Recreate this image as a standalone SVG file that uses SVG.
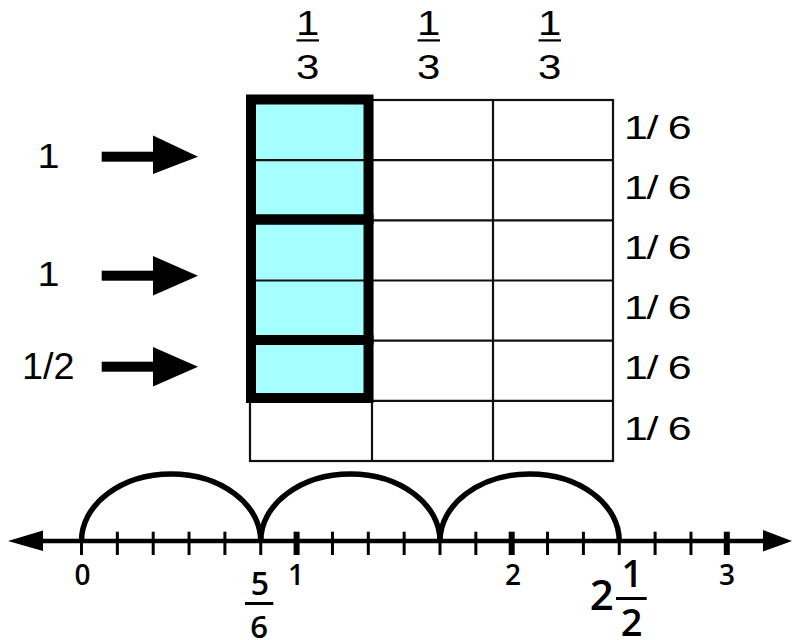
<svg xmlns="http://www.w3.org/2000/svg" width="792" height="640" viewBox="0 0 792 640">
<style>
.thin{stroke:#111;stroke-width:2.2;fill:none}
.thick{stroke:#000;stroke-width:10;fill:none}
.tk{stroke:#000;stroke-width:3}
.tkb{stroke:#000;stroke-width:6}
.arc{stroke:#000;stroke-width:5.5;fill:none}
</style>
<rect width="792" height="640" fill="#fff"/>

<g id="fraction-headers" font-family="'Liberation Sans', Arial, sans-serif" font-size="35" text-anchor="middle">
  <text transform="translate(307.8,34.5) scale(1.2,1)">1</text>
  <rect x="296.5" y="39.3" width="22.5" height="2.2"/>
  <text transform="translate(307.8,78.5) scale(1.2,1)">3</text>
  <text transform="translate(428.8,34.5) scale(1.2,1)">1</text>
  <rect x="417.5" y="39.3" width="22.5" height="2.2"/>
  <text transform="translate(428.8,78.5) scale(1.2,1)">3</text>
  <text transform="translate(549.7,34.5) scale(1.2,1)">1</text>
  <rect x="538.5" y="39.3" width="22.5" height="2.2"/>
  <text transform="translate(549.7,78.5) scale(1.2,1)">3</text>
</g>

<g id="grid">
  <rect x="250" y="100" width="122" height="301" fill="#a6ffff"/>
  <rect x="250" y="100" width="363" height="361" class="thin"/>
  <line x1="372" y1="100" x2="372" y2="461" class="thin"/>
  <line x1="493" y1="100" x2="493" y2="461" class="thin"/>
  <line x1="250" y1="160.2" x2="613" y2="160.2" class="thin"/>
  <line x1="250" y1="220.3" x2="613" y2="220.3" class="thin"/>
  <line x1="250" y1="280.5" x2="613" y2="280.5" class="thin"/>
  <line x1="250" y1="340.7" x2="613" y2="340.7" class="thin"/>
  <line x1="250" y1="400.8" x2="613" y2="400.8" class="thin"/>
</g>

<g id="groups">
  <rect x="251" y="99.5" width="117.5" height="120" class="thick"/>
  <rect x="251" y="219.5" width="117.5" height="120.5" class="thick"/>
  <rect x="251" y="340" width="117.5" height="58" class="thick"/>
</g>

<g id="row-labels" font-family="'Liberation Sans', Arial, sans-serif" font-size="33">
  <text transform="translate(624,138.5) scale(1.3,1)" letter-spacing="-1">1/ 6</text>
  <text transform="translate(624,198.7) scale(1.3,1)" letter-spacing="-1">1/ 6</text>
  <text transform="translate(624,258.8) scale(1.3,1)" letter-spacing="-1">1/ 6</text>
  <text transform="translate(624,319) scale(1.3,1)" letter-spacing="-1">1/ 6</text>
  <text transform="translate(624,379.2) scale(1.3,1)" letter-spacing="-1">1/ 6</text>
  <text transform="translate(624,439.5) scale(1.3,1)" letter-spacing="-1">1/ 6</text>
</g>

<g id="left-labels" font-family="'Liberation Sans', Arial, sans-serif" font-size="36">
  <text transform="translate(48.5,167.7) scale(1.1,1)" text-anchor="middle">1</text>
  <text transform="translate(48.5,285.7) scale(1.1,1)" text-anchor="middle">1</text>
  <text transform="translate(22,378.5) scale(1.05,1)">1/2</text>
</g>

<g id="connectors">
  <g id="arrow1"><rect x="101.7" y="151.7" width="52" height="10"/><polygon points="153,135.5 198,156.7 153,174"/></g>
  <g id="arrow2"><rect x="101.7" y="270.7" width="52" height="10"/><polygon points="153,256 198,275.7 153,295.5"/></g>
  <g id="arrow3"><rect x="101.7" y="361.7" width="52" height="10"/><polygon points="153,347 198,366.7 153,386.5"/></g>
</g>

<g id="number-line">
  <line x1="30" y1="541" x2="770" y2="541" stroke="#000" stroke-width="4.5"/>
  <polygon points="8,541 43,530.5 43,551"/>
  <polygon points="792,541 763,530 763,551.5"/>
  <g class="tk">
    <line x1="81.5" y1="531.7" x2="81.5" y2="555"/>
    <line x1="117.35" y1="531.7" x2="117.35" y2="555"/>
    <line x1="153.2" y1="531.7" x2="153.2" y2="555"/>
    <line x1="189.05" y1="531.7" x2="189.05" y2="555"/>
    <line x1="224.9" y1="531.7" x2="224.9" y2="555"/>
    <line x1="260.75" y1="531.7" x2="260.75" y2="555"/>
    <line x1="332.45" y1="531.7" x2="332.45" y2="555"/>
    <line x1="368.3" y1="531.7" x2="368.3" y2="555"/>
    <line x1="404.15" y1="531.7" x2="404.15" y2="555"/>
    <line x1="440" y1="531.7" x2="440" y2="555"/>
    <line x1="475.85" y1="531.7" x2="475.85" y2="555"/>
    <line x1="547.55" y1="531.7" x2="547.55" y2="555"/>
    <line x1="583.4" y1="531.7" x2="583.4" y2="555"/>
    <line x1="619.25" y1="531.7" x2="619.25" y2="555"/>
    <line x1="655.1" y1="531.7" x2="655.1" y2="555"/>
    <line x1="690.95" y1="531.7" x2="690.95" y2="555"/>
  </g>
  <g class="tkb">
    <line x1="296.6" y1="531.7" x2="296.6" y2="555"/>
    <line x1="511.7" y1="531.7" x2="511.7" y2="555"/>
    <line x1="726.8" y1="531.7" x2="726.8" y2="555"/>
  </g>
  <path class="arc" d="M81.5,541 A89.6,67 0 0 1 260.75,541"/>
  <path class="arc" d="M260.75,541 A89.6,67 0 0 1 440,541"/>
  <path class="arc" d="M440,541 A89.6,67 0 0 1 619.25,541"/>
</g>

<g id="axis-labels" font-family="'Open Sans', 'Liberation Sans', sans-serif" font-weight="600" text-anchor="middle" font-size="28">
  <text x="82.5" y="585">0</text>
  <text x="296" y="585">1</text>
  <text x="513" y="585">2</text>
  <text x="727" y="585">3</text>
</g>

<g id="label-5-6" font-family="'Open Sans', 'Liberation Sans', sans-serif" font-weight="600" text-anchor="middle">
  <text x="260" y="595" font-size="32">5</text>
  <rect x="245" y="602" width="28.3" height="3"/>
  <text x="259" y="638" font-size="31">6</text>
</g>

<g id="label-2-1-2" font-family="'Open Sans', 'Liberation Sans', sans-serif" font-weight="600" text-anchor="middle">
  <text x="601.7" y="610" font-size="42">2</text>
  <text x="632" y="586.7" font-size="37">1</text>
  <rect x="616" y="597" width="30.7" height="3"/>
  <text x="631.5" y="636" font-size="38">2</text>
</g>
</svg>
